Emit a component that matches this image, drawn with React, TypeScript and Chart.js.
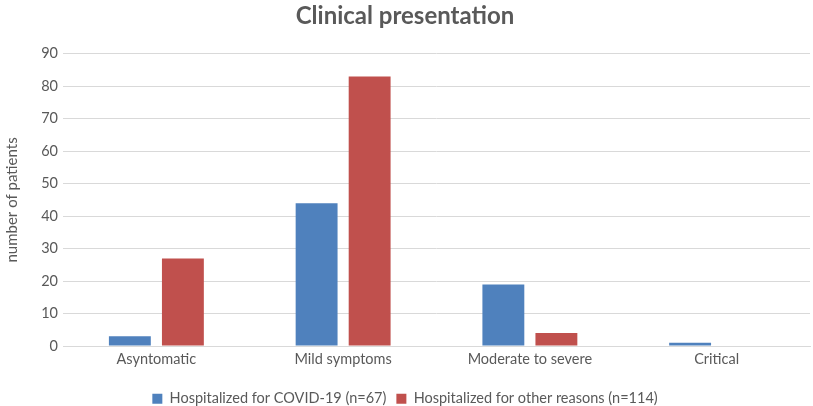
import React, { useEffect, useRef } from "react";
import { Chart, registerables } from "chart.js";

Chart.register(...registerables);

const categories = ["Asyntomatic", "Mild symptoms", "Moderate to severe", "Critical"];
const covidValues = [3, 44, 19, 1];
const otherValues = [27, 83, 4, 0];
const seriesLabels = ["Hospitalized for COVID-19 (n=67)", "Hospitalized for other reasons (n=114)"];
const chartTitle = "Clinical presentation";
const yAxisTitle = "number of patients";

export default function App() {
  const ref = useRef<HTMLCanvasElement | null>(null);
  useEffect(() => {
    document.body.style.margin = "0";
    if (!ref.current) return;
    const chart = new Chart(ref.current, {
      type: "bar",
      data: {
        labels: categories,
        datasets: [
          { label: seriesLabels[0], data: covidValues, backgroundColor: "#4F81BD" },
          { label: seriesLabels[1], data: otherValues, backgroundColor: "#C0504D" },
        ],
      },
      options: {
        animation: false,
        responsive: false,
        maintainAspectRatio: false,
        layout: { padding: { left: 0, right: 3, top: 2, bottom: -10 } },
        datasets: { bar: { categoryPercentage: 0.568, barPercentage: 0.79 } },
        plugins: {
          title: {
            display: true,
            text: chartTitle,
            color: "#595959",
            font: { family: "Lato", size: 24, weight: "bold" },
            padding: { top: 0, bottom: 23 },
          },
          legend: {
            position: "bottom",
            labels: {
              color: "#595959",
              font: { family: "Lato", size: 14.5 },
              boxWidth: 10,
              boxHeight: 10,
              padding: 10,
            },
          },
          tooltip: { enabled: false },
        },
        scales: {
          x: {
            grid: { display: false },
            border: { color: "#d9d9d9" },
            ticks: { color: "#595959", font: { family: "Lato", size: 14.5 }, padding: -3 },
            afterFit: (scale: any) => {
              scale.height += 16;
            },
          },
          y: {
            min: 0,
            max: 90,
            ticks: { stepSize: 10, color: "#595959", font: { family: "Lato", size: 14.5 }, padding: 5 },
            grid: { color: "#d9d9d9", drawTicks: false },
            border: { display: false },
            title: {
              display: true,
              text: yAxisTitle,
              color: "#595959",
              font: { family: "Lato", size: 15 },
              padding: { top: 3, bottom: 8 },
            },
            afterFit: (scale: any) => {
              scale.width = 63;
            },
          },
        },
      },
    });
    return () => chart.destroy();
  }, []);
  return <canvas ref={ref} width={813} height={406} style={{ display: "block" }} />;
}
